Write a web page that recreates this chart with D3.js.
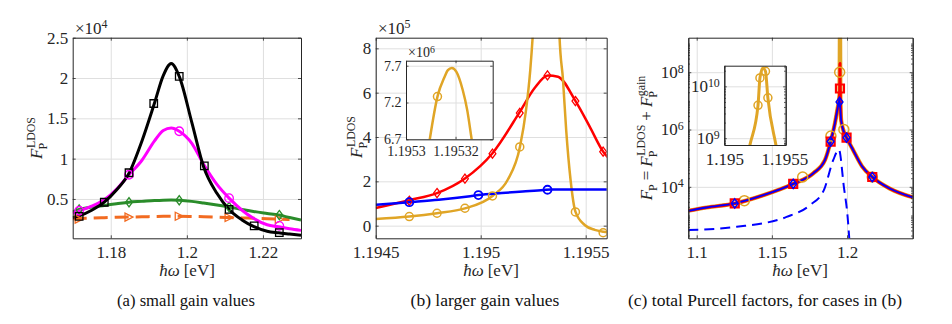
<!DOCTYPE html>
<html>
<head>
<meta charset="UTF-8">
<title>Purcell factors</title>
<script src="https://cdn.jsdelivr.net/npm/d3@7"></script>
<style>
  body { margin: 0; background: #fff; }
  svg { display: block; }
</style>
</head>
<body>
<div id="fig"></div>
<script>
// ---- (a) small gain values, y in units of 1e4 ----
const aX       = [1.170, 1.1717, 1.1750, 1.1783, 1.1815, 1.1848, 1.1882, 1.1915, 1.1938, 1.1959, 1.1980, 1.2013, 1.2044, 1.2079, 1.2111, 1.2145, 1.2175, 1.2211, 1.2241, 1.2270, 1.2300];
const aBlack   = [0.27, 0.29, 0.36, 0.46, 0.61, 0.82, 1.22, 1.69, 2.03, 2.18, 2.02, 1.45, 0.90, 0.57, 0.37, 0.24, 0.16, 0.10, 0.08, 0.065, 0.05];
const aMagenta = [0.32, 0.35, 0.41, 0.49, 0.62, 0.80, 0.98, 1.22, 1.35, 1.38, 1.34, 1.19, 0.93, 0.68, 0.51, 0.36, 0.26, 0.18, 0.155, 0.13, 0.11];
const aGreen   = [0.34, 0.37, 0.40, 0.42, 0.44, 0.46, 0.47, 0.48, 0.485, 0.487, 0.484, 0.47, 0.45, 0.425, 0.40, 0.37, 0.345, 0.32, 0.30, 0.27, 0.24];
const aOrange  = [0.255, 0.257, 0.263, 0.268, 0.273, 0.276, 0.279, 0.282, 0.284, 0.285, 0.285, 0.283, 0.28, 0.275, 0.27, 0.265, 0.26, 0.255, 0.25, 0.245, null];
const aBlackMarks = [[1.1717, 0.284], [1.1783, 0.459], [1.1848, 0.825], [1.1913, 1.684], [1.1980, 2.02], [1.2046, 0.91], [1.2111, 0.371], [1.2177, 0.166], [1.2243, 0.083]];
const aMagentaMarks = [[1.1717, 0.354], [1.1848, 0.80], [1.1980, 1.34], [1.2111, 0.51], [1.2243, 0.166]];
const aGreenMarks = [[1.1717, 0.37], [1.1848, 0.459], [1.1980, 0.484], [1.2111, 0.40], [1.2243, 0.30]];
const aOrangeMarks = [[1.1717, 0.25], [1.1848, 0.275], [1.1980, 0.285], [1.2111, 0.27], [1.2243, 0.245]];

// ---- (b) larger gain values, y in units of 1e5 ----
const bRed = [[1.1945, 0.80], [1.19466, 1.15], [1.194792, 1.47], [1.194925, 2.13], [1.195056, 3.27], [1.195184, 5.10], [1.195256, 6.20], [1.19532, 6.78], [1.195368, 6.72], [1.195451, 5.63], [1.195519, 4.47], [1.195586, 3.30], [1.19561, 3.04]];
const bBlue = [[1.1945, 0.94], [1.19466, 1.06], [1.1948, 1.17], [1.19495, 1.33], [1.194989, 1.38], [1.1951, 1.47], [1.1952, 1.54], [1.1953, 1.61], [1.195335, 1.63], [1.1954, 1.63], [1.19561, 1.63]];
const bGold = [[1.1945, 0.30], [1.19466, 0.41], [1.194792, 0.56], [1.194925, 0.78], [1.195056, 1.34], [1.195128, 2.06], [1.195187, 3.56], [1.195216, 5.22], [1.195236, 7.02], [1.195248, 8.6], [1.19527, 13], [1.19529, 25], [1.1953, 40],
  [1.1953096, 67], [1.1953127, 72.8], [1.1953156, 75.5], [1.1953169, 76.4], [1.1953185, 76.7], [1.1953203, 76.2], [1.1953229, 73.7], [1.1953247, 71.0], [1.1953265, 67],
  [1.19534, 35], [1.19536, 15], [1.195375, 8.6], [1.195392, 6.57], [1.195407, 4.32], [1.195428, 2.06], [1.195451, 0.63], [1.195495, 0.03], [1.195543, -0.19], [1.195586, -0.27], [1.19561, -0.30]];
const bRedMarks = [[1.19466, 1.12], [1.194792, 1.47], [1.194925, 2.12], [1.195056, 3.25], [1.195186, 5.08], [1.195318, 6.78], [1.195451, 5.62], [1.195583, 3.34]];
const bBlueMarks = [[1.19466, 1.06], [1.194989, 1.38], [1.195318, 1.62]];
const bGoldMarks = [[1.19466, 0.41], [1.194792, 0.56], [1.194925, 0.785], [1.195056, 1.34], [1.195186, 3.55], [1.195451, 0.62], [1.195583, -0.32]];
const bInsetMarks = [[1.1953127, 72.8]];

// ---- (c) total Purcell factors ----
const cGold = [[1.0944, 1.46e3], [1.1066, 1.9e3], [1.1253, 2.63e3], [1.1443, 5.1e3], [1.1642, 1.27e4], [1.1775, 2.95e4], [1.1853, 8.5e4], [1.1891, 3.8e5], [1.1919, 1.6e6], [1.1935, 4.7e6],
  [1.1950, 1.6e7], [1.195214, 7.6e8], [1.19528, 4.3e9], [1.195296, 1.45e10], [1.19532, 2.26e10], [1.195342, 1.95e10], [1.195362, 6e9], [1.195428, 7.6e8], [1.1956, 1.3e7],
  [1.1961, 2.1e6], [1.1979, 8.3e5], [1.1997, 5.2e5], [1.2041, 1.9e5], [1.2100, 5.2e4], [1.2168, 2.2e4], [1.2285, 8.7e3], [1.2437, 4.3e3]];
const cRed = [[1.0944, 1.46e3], [1.1066, 1.9e3], [1.1253, 2.63e3], [1.1443, 5.1e3], [1.1642, 1.27e4], [1.1775, 2.95e4], [1.1853, 8.5e4], [1.1891, 3.8e5], [1.1919, 1.6e6], [1.1935, 4.7e6],
  [1.1950, 1.5e7], [1.19525, 6e7], [1.1953, 2e8], [1.19535, 6e7], [1.1956, 1.2e7],
  [1.1961, 2.1e6], [1.1979, 8.3e5], [1.1997, 5.2e5], [1.2041, 1.9e5], [1.2100, 5.2e4], [1.2168, 2.2e4], [1.2285, 8.7e3], [1.2437, 4.3e3]];
const cBlue = [[1.0944, 1.46e3], [1.1066, 1.9e3], [1.1253, 2.63e3], [1.1443, 5.1e3], [1.1642, 1.27e4], [1.1775, 2.95e4], [1.1853, 8.5e4], [1.1891, 3.8e5], [1.1919, 1.6e6], [1.1935, 4.7e6],
  [1.1950, 1.1e7],
  [1.1961, 2.1e6], [1.1979, 8.3e5], [1.1997, 5.2e5], [1.2041, 1.9e5], [1.2100, 5.2e4], [1.2168, 2.2e4], [1.2285, 8.7e3], [1.2437, 4.3e3]];
const cBlueLdos = [[1.0944, 309], [1.1266, 403], [1.1598, 891], [1.1753, 2.29e3], [1.1846, 7.7e3], [1.1908, 8.5e4], [1.1946, 2.0e5], [1.1979, 1.0e4], [1.2004, 891], [1.2015, 158], [1.2030, 10]];
const cGoldMarks = [[1.1317, 3.3e3], [1.1705, 2.2e4], [1.1893, 5.9e5], [1.1951, 1.0e8], [1.1979, 1.0e6], [1.2168, 2.2e4]];
const cRedMarks = [[1.1253, 2.63e3], [1.1642, 1.27e4], [1.1891, 3.8e5], [1.1953, 2.7e7], [1.1997, 5.2e5], [1.2168, 2.2e4]];
const cBlueMarks = [[1.1253, 2.63e3], [1.1642, 1.27e4], [1.1891, 3.8e5], [1.1950, 9.2e6], [1.1997, 5.2e5], [1.2168, 2.2e4]];
const cInsetMarks = [[1.19528, 4.3e9], [1.195296, 1.45e10], [1.195342, 1.95e10], [1.195362, 6e9]];

// ---- tick labels ----
const aXTicks = [1.18, 1.2, 1.22], aYTicks = [0.5, 1, 1.5, 2, 2.5];
const bXTicks = [1.1945, 1.195, 1.1955], bYTicks = [0, 2, 4, 6, 8];
const bInXTicks = [1.1953, 1.19532], bInYTicks = [67, 72, 77];
const cXTicks = [1.1, 1.15, 1.2], cYTicks = [1e4, 1e6, 1e8];
const cInXTicks = [1.195, 1.1955], cInYTicks = [1e9, 1e10];
const captions = ["(a) small gain values", "(b) larger gain values", "(c) total Purcell factors, for cases in (b)"];

const SERIF = "Liberation Serif, DejaVu Serif, serif";
const AXC = "#262626", GRIDC = "#dfdfdf";
const FS = 17, FSI = 14;
const GOLD = "#e0a526";

const svg = d3.select("#fig").append("svg")
  .attr("width", 952).attr("height", 324)
  .attr("font-family", SERIF);

let clipN = 0;
function makeAxes(o) {
  const x = d3.scaleLinear().domain(o.xDomain).range([o.left, o.right]);
  const y = (o.yLog ? d3.scaleLog() : d3.scaleLinear()).domain(o.yDomain).range([o.bottom, o.top]);
  const w = o.right - o.left, h = o.bottom - o.top;
  const fs = o.fs || FS;
  const g = svg.append("g");
  g.append("rect").attr("x", o.left).attr("y", o.top).attr("width", w).attr("height", h).attr("fill", "#fff");

  // grid
  const grid = g.append("g");
  grid.append("g").attr("transform", `translate(0,${o.bottom})`)
    .call(d3.axisBottom(x).tickValues(o.xTicks).tickSize(-h).tickFormat(""));
  grid.append("g").attr("transform", `translate(${o.left},0)`)
    .call(d3.axisLeft(y).tickValues(o.yTicks).tickSize(-w).tickFormat(""));
  grid.selectAll(".domain").remove();
  grid.selectAll("line").attr("stroke", GRIDC).attr("stroke-width", 1);

  const id = "clip" + (clipN++);
  g.append("clipPath").attr("id", id).append("rect")
    .attr("x", o.left).attr("y", o.top).attr("width", w).attr("height", h);
  const data = g.append("g").attr("clip-path", `url(#${id})`);

  const ax = g.append("g");
  const tl = o.tl || 3;
  ax.append("g").attr("transform", `translate(0,${o.bottom})`)
    .call(d3.axisBottom(x).tickValues(o.xTicks).tickSizeInner(-tl).tickSizeOuter(0).tickPadding(o.xPad || 8).tickFormat(o.xFmt));
  ax.append("g").attr("transform", `translate(0,${o.top})`)
    .call(d3.axisTop(x).tickValues(o.xTicks).tickSizeInner(-tl).tickSizeOuter(0).tickFormat(""));
  const yl = ax.append("g").attr("transform", `translate(${o.left},0)`)
    .call(d3.axisLeft(y).tickValues(o.yTicks).tickSizeInner(-tl).tickSizeOuter(0).tickPadding(4.5).tickFormat(o.yFmt || ""));
  ax.append("g").attr("transform", `translate(${o.right},0)`)
    .call(d3.axisRight(y).tickValues(o.yTicks).tickSizeInner(-tl).tickSizeOuter(0).tickFormat(""));
  if (o.yMinor) {
    ax.append("g").attr("transform", `translate(${o.left},0)`)
      .call(d3.axisLeft(y).tickValues(o.yMinor).tickSizeInner(-1.6).tickSizeOuter(0).tickFormat(""));
    ax.append("g").attr("transform", `translate(${o.right},0)`)
      .call(d3.axisRight(y).tickValues(o.yMinor).tickSizeInner(-1.6).tickSizeOuter(0).tickFormat(""));
  }
  ax.selectAll("g").attr("font-family", SERIF);
  ax.selectAll(".domain").attr("stroke", AXC).attr("stroke-width", 1);
  ax.selectAll("line").attr("stroke", AXC).attr("stroke-width", 0.8);
  ax.selectAll("text").attr("font-family", SERIF).attr("font-size", fs).attr("fill", "#262626");
  if (o.yPow) {
    yl.selectAll(".tick text").each(function (d) {
      const t = d3.select(this).text(null);
      t.append("tspan").text("10");
      t.append("tspan").attr("dy", "-0.45em").attr("font-size", fs * 0.7).text(Math.round(Math.log10(d)));
    });
  }
  return { x, y, data, ax, g };
}

function lineOf(sc, curve) {
  return d3.line().defined(d => d[1] != null)
    .x(d => sc.x(d[0])).y(d => sc.y(d[1])).curve(curve || d3.curveMonotoneX);
}

function drawLine(sc, pts, color, width, dash) {
  sc.data.append("path").datum(pts)
    .attr("d", lineOf(sc))
    .attr("fill", "none").attr("stroke", color).attr("stroke-width", width)
    .attr("stroke-dasharray", dash || null)
    .attr("stroke-linejoin", "round");
}

function shapePath(shape, s) {
  const h = s / 2;
  if (shape === "square") return `M${-h},${-h}H${h}V${h}H${-h}Z`;
  if (shape === "circle") return `M${h},0A${h},${h} 0 1,1 ${-h},0A${h},${h} 0 1,1 ${h},0Z`;
  if (shape === "diamond") return `M0,${-h * 1.15}L${h * 0.85},0L0,${h * 1.15}L${-h * 0.85},0Z`;
  if (shape === "tri") return `M${h},0L${-h},${-h}L${-h},${h}Z`;
}

function drawMarks(sc, pts, shape, size, color, sw) {
  sc.data.append("g").selectAll("path").data(pts).join("path")
    .attr("transform", d => `translate(${sc.x(d[0])},${sc.y(d[1])})`)
    .attr("d", shapePath(shape, size))
    .attr("fill", "none").attr("stroke", color).attr("stroke-width", sw);
}

function expLabel(x, y, exp, fs) {
  const t = svg.append("text").attr("x", x).attr("y", y).attr("font-size", fs).attr("fill", "#262626");
  t.append("tspan").text("\u00d710");
  t.append("tspan").attr("dy", "-0.45em").attr("font-size", fs * 0.7).text(exp);
}

function xLabel(cx, y) {
  const t = svg.append("text").attr("x", cx).attr("y", y).attr("text-anchor", "middle").attr("font-size", FS).attr("fill", "#262626");
  t.append("tspan").attr("font-style", "italic").text("\u0127\u03c9");
  t.append("tspan").attr("dx", 4).text("[eV]");
}

// rotated y label built from pieces: strings or {sup: "..."} for F_P^sup
function yLabel(cx, cy, parts) {
  const fs = FS;
  const outer = svg.append("g").attr("transform", `translate(${cx},${cy}) rotate(-90)`).attr("fill", "#262626");
  const inner = outer.append("g");
  let x = 0;
  parts.forEach(p => {
    if (typeof p === "string") {
      x += 4;
      const t = inner.append("text").attr("x", x).attr("font-size", fs).text(p);
      x += t.node().getComputedTextLength() + 4;
    } else {
      const f = inner.append("text").attr("x", x).attr("font-size", fs).attr("font-style", "italic").text("F");
      const xs = x + f.node().getComputedTextLength() + 0.5;
      let ws = 0;
      if (p.sup) {
        const s = inner.append("text").attr("x", xs).attr("y", -fs * 0.42).attr("font-size", fs * 0.7).text(p.sup);
        ws = s.node().getComputedTextLength();
      }
      const sb = inner.append("text").attr("x", xs - 1.5).attr("y", fs * 0.27).attr("font-size", fs * 0.7).text("P");
      ws = Math.max(ws, sb.node().getComputedTextLength() - 1.5);
      x = xs + ws;
    }
  });
  inner.attr("transform", `translate(${-x / 2},0)`);
}

const fmtNum = d => String(+d.toFixed(6));

// ===== panel (a) =====
const A = makeAxes({ left: 72.7, right: 301, top: 37.7, bottom: 238.3,
  xDomain: [1.17, 1.23], yDomain: [0.012, 2.5], xTicks: aXTicks, yTicks: aYTicks,
  xFmt: fmtNum, yFmt: fmtNum });
drawLine(A, aX.map((x, i) => [x, aOrange[i]]), "#f26b21", 3, "14,7");
drawLine(A, aX.map((x, i) => [x, aGreen[i]]), "#2a8c2a", 3);
drawLine(A, aX.map((x, i) => [x, aMagenta[i]]), "#ff00ff", 3);
drawLine(A, aX.map((x, i) => [x, aBlack[i]]), "#000000", 3);
drawMarks(A, aOrangeMarks, "tri", 8, "#f26b21", 1.3);
drawMarks(A, aGreenMarks, "diamond", 8, "#2a8c2a", 1.3);
drawMarks(A, aMagentaMarks, "circle", 8.5, "#ff00ff", 1.3);
drawMarks(A, aBlackMarks, "square", 7.5, "#000000", 1.3);
expLabel(75, 33.5, "4", FS);
yLabel(42, 138, [{ sup: "LDOS" }]);
xLabel(187, 276);

// ===== panel (b) =====
const B = makeAxes({ left: 375.7, right: 606.7, top: 37.7, bottom: 238.3,
  xDomain: [1.1945, 1.1956], yDomain: [-0.57, 8.48], xTicks: bXTicks, yTicks: bYTicks,
  xFmt: fmtNum, yFmt: fmtNum });
drawLine(B, bRed, "#ff0000", 2.5);
drawLine(B, bGold, GOLD, 2.5);
drawLine(B, bBlue, "#0000ff", 2.5);
drawMarks(B, bRedMarks, "diamond", 8, "#ff0000", 1.3);
drawMarks(B, bGoldMarks, "circle", 8, GOLD, 1.5);
drawMarks(B, bBlueMarks, "circle", 8, "#0000ff", 1.8);
expLabel(378, 33.5, "5", FS);
yLabel(362, 137, [{ sup: "LDOS" }]);
xLabel(491, 276);

// inset of (b)
const BI = makeAxes({ left: 406, right: 492.7, top: 60.7, bottom: 139.3,
  xDomain: [1.1953, 1.195335], yDomain: [67, 77.68], xTicks: bInXTicks, yTicks: bInYTicks,
  xFmt: fmtNum, yFmt: d => (d / 10).toFixed(1), fs: FSI, tl: 2.5, xPad: 7 });
drawLine(BI, bGold, GOLD, 2.5);
drawMarks(BI, bInsetMarks, "circle", 8, GOLD, 1.5);
expLabel(408, 57, "6", FSI);

// ===== panel (c) =====
const cMinor = [];
for (let k = 2; k <= 9; k++) for (let m = 1; m <= 9; m++) {
  const v = m * Math.pow(10, k);
  if (v >= 1.6e2 && v <= 1.6e9 && !cYTicks.includes(v)) cMinor.push(v);
}
const C = makeAxes({ left: 688.3, right: 912.7, top: 37.7, bottom: 238.3,
  xDomain: [1.0944, 1.2437], yDomain: [1.6e2, 1.6e9], yLog: true, xTicks: cXTicks, yTicks: cYTicks,
  xFmt: fmtNum, yPow: true, yMinor: cMinor });
drawLine(C, cGold, GOLD, 4.2);
drawLine(C, cRed, "#ff0000", 3);
drawLine(C, cBlue, "#0000ff", 1.8);
drawLine(C, cBlueLdos, "#0000ff", 2, "10,6");
drawMarks(C, cGoldMarks, "circle", 10, GOLD, 1.5);
drawMarks(C, cRedMarks, "square", 8, "#ff0000", 2.2);
drawMarks(C, cBlueMarks, "diamond", 8, "#0000ff", 1.5);
yLabel(652, 138, [{ sup: null }, "=", { sup: "LDOS" }, "+", { sup: "gain" }]);
xLabel(800, 276);

// inset of (c)
const ciMinor = [];
for (let k = 8; k <= 10; k++) for (let m = 2; m <= 9; m++) {
  const v = m * Math.pow(10, k);
  if (v >= 7.4e8 && v <= 2.5e10) ciMinor.push(v);
}
const CI = makeAxes({ left: 724.3, right: 785.7, top: 65.7, bottom: 145,
  xDomain: [1.195, 1.19551], yDomain: [7.4e8, 2.5e10], yLog: true, xTicks: cInXTicks, yTicks: cInYTicks,
  xFmt: fmtNum, yPow: true, yMinor: ciMinor, fs: FS, tl: 2.5 });
drawLine(CI, cGold, GOLD, 3);
drawMarks(CI, cInsetMarks, "circle", 8, GOLD, 1.5);

// captions, sized to the widths they take in the figure
const capX = [186, 485, 765], capW = [138, 160, 290];
captions.forEach((c, i) => {
  const t = svg.append("text").attr("x", capX[i]).attr("y", 306).attr("text-anchor", "middle")
    .attr("font-size", 16).attr("fill", "#111").text(c);
  const len = t.node().getComputedTextLength();
  t.attr("font-size", Math.min(17.5, 16 * capW[i] / len));
});
</script>
</body>
</html>
